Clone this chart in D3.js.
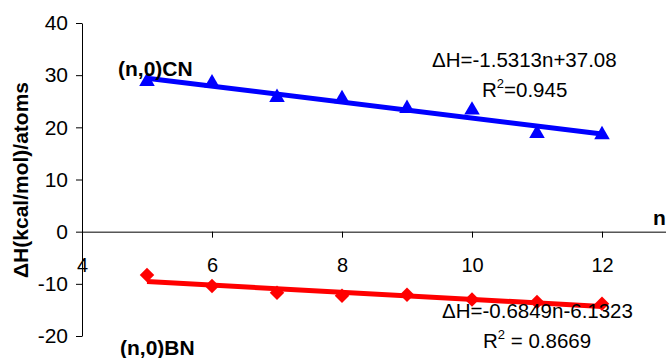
<!DOCTYPE html>
<html>
<head>
<meta charset="utf-8">
<script src="https://cdn.jsdelivr.net/npm/d3@7"></script>
<style>
  body { margin: 0; background: #fff; }
  svg { display: block; font-family: Arial, "Liberation Sans", sans-serif; }
</style>
</head>
<body>
<svg id="chart"></svg>
<script>
// data
const nValues = [5, 6, 7, 8, 9, 10, 11, 12];
const cnValues = [28.8, 28.5, 25.7, 25.5, 23.6, 23.3, 18.8, 18.6];
const bnValues = [-8.3, -10.4, -11.7, -12.3, -12.1, -13.0, -13.5, -13.8];
// trendline coefficients as printed on the chart
const cnFit = [-1.5313, 37.08];
const bnFit = [-0.6849, -6.1323];
const xTicks = [4, 6, 8, 10, 12];
const yTicks = [-20, -10, 0, 10, 20, 30, 40];

const width = 666;
const height = 358;

const svg = d3.select('#chart')
  .attr('width', width)
  .attr('height', height);

// scales
const x = d3.scaleLinear().domain([4, 13]).range([82, 667]);
const y = d3.scaleLinear().domain([-20, 40]).range([336, 23]);

// plain hyphen for negatives, like the original
const fmt = d => String(d);

// y axis
const yAxis = svg.append('g')
  .attr('transform', `translate(${x(4)},0)`)
  .call(d3.axisLeft(y).tickValues(yTicks).tickFormat(fmt).tickSize(6).tickSizeOuter(0).tickPadding(8));
yAxis.select('.domain').attr('stroke', '#000');
yAxis.selectAll('.tick line').attr('stroke', '#000');
yAxis.selectAll('.tick text')
  .attr('font-size', 21)
  .attr('fill', '#000')
  .attr('font-family', 'Arial, "Liberation Sans", sans-serif');

// x axis sits at y = 0
const xAxis = svg.append('g')
  .attr('transform', `translate(0,${y(0)})`)
  .call(d3.axisBottom(x).tickValues(xTicks).tickFormat(fmt).tickSize(6).tickSizeOuter(0).tickPadding(20));
xAxis.select('.domain').attr('stroke', '#000');
xAxis.selectAll('.tick line').attr('stroke', '#000');
xAxis.selectAll('.tick text')
  .attr('font-size', 20)
  .attr('fill', '#000')
  .attr('font-family', 'Arial, "Liberation Sans", sans-serif');

// trendlines from the fit coefficients
const fitLine = d3.line()
  .x(d => x(d[0]))
  .y(d => y(d[1]));

function drawFit(coef, color) {
  const n0 = d3.min(nValues), n1 = d3.max(nValues);
  svg.append('path')
    .datum([[n0, coef[0] * n0 + coef[1]], [n1, coef[0] * n1 + coef[1]]])
    .attr('d', fitLine)
    .attr('fill', 'none')
    .attr('stroke', color)
    .attr('stroke-width', 5);
}
drawFit(cnFit, '#0000ff');
drawFit(bnFit, '#ff0000');

// markers
const tri = d3.symbol().type(d3.symbolTriangle).size(105);
svg.append('g').selectAll('path')
  .data(nValues)
  .enter()
  .append('path')
  .attr('d', tri)
  .attr('transform', (d, i) => `translate(${x(d)},${y(cnValues[i])})`)
  .attr('fill', '#0000ff');

const sq = d3.symbol().type(d3.symbolSquare).size(105);
svg.append('g').selectAll('path')
  .data(nValues)
  .enter()
  .append('path')
  .attr('d', sq)
  .attr('transform', (d, i) => `translate(${x(d)},${y(bnValues[i])}) rotate(45)`)
  .attr('fill', '#ff0000');

// labels
function label(txt, px, py, size, bold) {
  return svg.append('text')
    .attr('x', px)
    .attr('y', py)
    .attr('font-size', size)
    .attr('font-weight', bold ? 'bold' : 'normal')
    .attr('fill', '#000')
    .text(txt);
}

label('(n,0)CN', 118, 76, 21, true);
label('(n,0)BN', 120, 355, 21, true);
label('n', 653, 225, 21, true);

label('ΔH=-1.5313n+37.08', 432, 67, 20.5, false);
const r1 = label('R', 482, 97, 20.5, false);
r1.append('tspan').attr('dy', -9).attr('font-size', 13).text('2');
r1.append('tspan').attr('dy', 9).text('=0.945');

label('ΔH=-0.6849n-6.1323', 442, 318, 20.5, false);
const r2 = label('R', 483, 348, 20.5, false);
r2.append('tspan').attr('dy', -9).attr('font-size', 13).text('2');
r2.append('tspan').attr('dy', 9).text(' = 0.8669');

// y title
svg.append('text')
  .attr('transform', 'translate(28,180) rotate(-90)')
  .attr('text-anchor', 'middle')
  .attr('font-size', 21)
  .attr('font-weight', 'bold')
  .attr('fill', '#000')
  .text('ΔH(kcal/mol)/atoms');
</script>
</body>
</html>
